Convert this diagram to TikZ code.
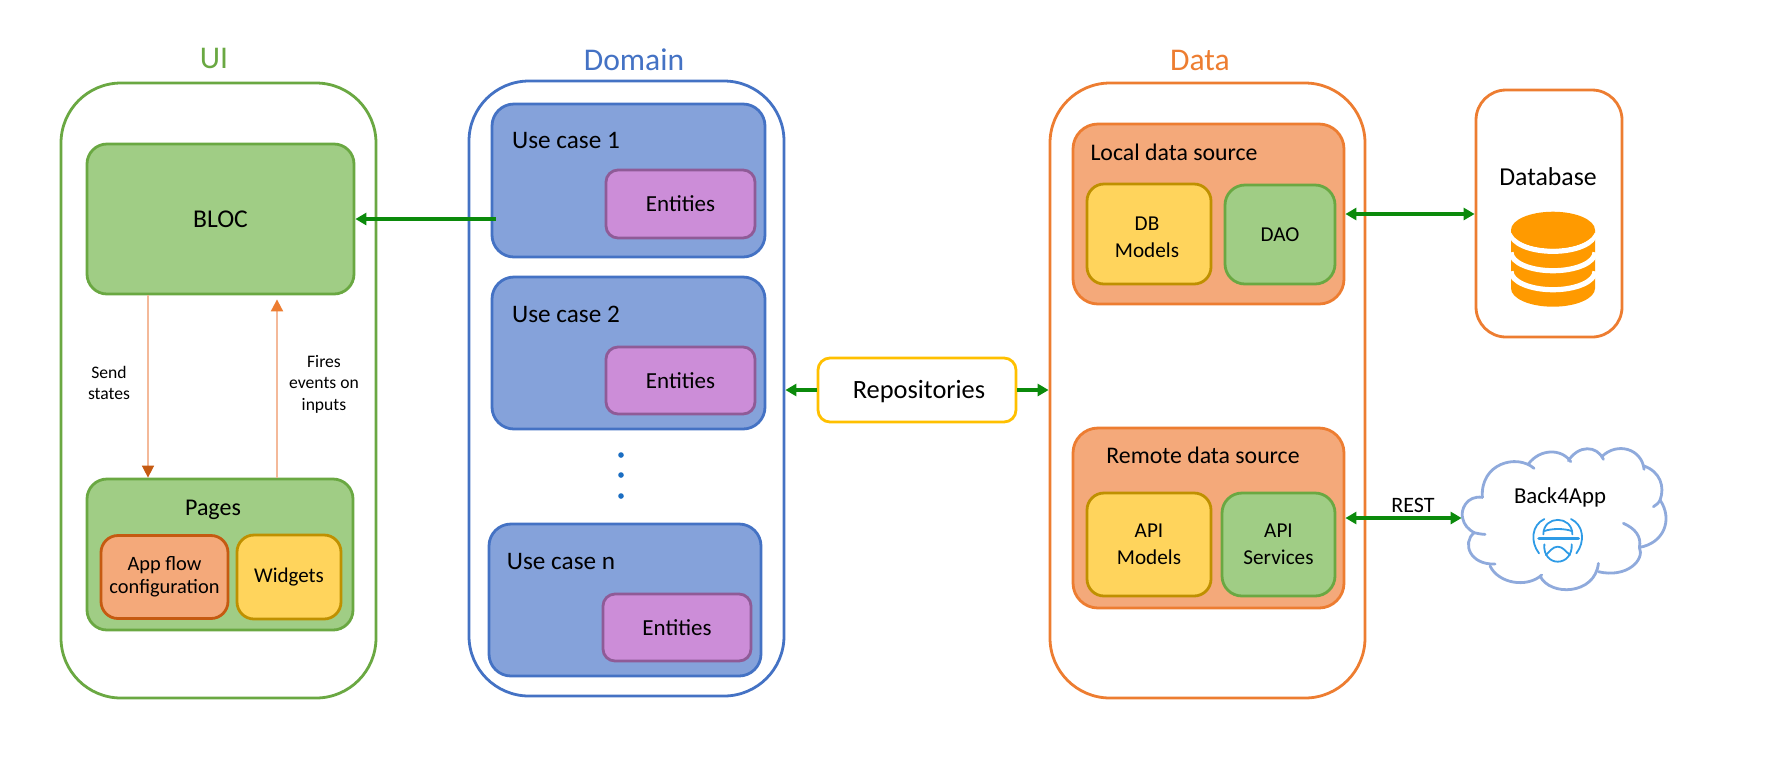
\documentclass[tikz,border=0pt]{standalone}
\usepackage{fontspec}
\setmainfont{Carlito}
\usetikzlibrary{arrows.meta, calc}
\definecolor{uigreen}{HTML}{6AA842}
\definecolor{greenfill}{HTML}{A0CD85}
\definecolor{domainblue}{HTML}{4472C4}
\definecolor{bluefill}{HTML}{85A2DA}
\definecolor{purplefill}{HTML}{CC8DD8}
\definecolor{purpleline}{HTML}{8F5B97}
\definecolor{dataorange}{HTML}{ED7D31}
\definecolor{orangefill}{HTML}{F4A97A}
\definecolor{darkorange}{HTML}{C55A11}
\definecolor{lightorange}{HTML}{F4B999}
\definecolor{yellowfill}{HTML}{FFD45C}
\definecolor{yellowline}{HTML}{BF9000}
\definecolor{repoline}{HTML}{FFC000}
\definecolor{arrowgreen}{HTML}{0B8A0B}
\definecolor{cylorange}{HTML}{FF9A00}
\definecolor{cloudblue}{HTML}{8FAADC}
\definecolor{logoblue}{HTML}{2E9BE6}
\definecolor{dotblue}{HTML}{1B6EC2}
\tikzset{
    cbox/.style n args={4}{draw=#3, fill=#4, line width=1.4pt, rounded corners=8.5pt, inner sep=0pt,
        minimum width=#1*0.5pt, minimum height=#2*0.5pt, align=center},
    layer/.style n args={3}{cbox={#1}{#2}{#3}{white}, rounded corners=30pt},
    greenbox/.style 2 args={cbox={#1}{#2}{uigreen}{greenfill}, rounded corners=10pt},
    yellowbox/.style 2 args={cbox={#1}{#2}{yellowline}{yellowfill}},
    casebox/.style 2 args={cbox={#1}{#2}{domainblue}{bluefill}, rounded corners=11pt},
    entitybox/.style 2 args={cbox={#1}{#2}{purpleline}{purplefill}, rounded corners=6pt},
    sourcebox/.style 2 args={cbox={#1}{#2}{dataorange}{orangefill}, rounded corners=12.5pt},
    lbl/.style 2 args={inner sep=0pt, align=center, font=\fontsize{#1}{#2}\selectfont},
    greenarrow/.style={draw=arrowgreen, line width=1.6pt, -{Triangle[length=5.5pt,width=6pt]}},
    bothgreen/.style={draw=arrowgreen, line width=1.6pt, {Triangle[length=5.5pt,width=6pt]}-{Triangle[length=5.5pt,width=6pt]}},
    cloudline/.style={draw=cloudblue, line width=1.4pt, line cap=round},
    logoline/.style={draw=logoblue, line width=0.9pt, line cap=round}
}
\begin{document}
\begin{tikzpicture}[x=0.5pt, y=-0.5pt]
    \useasboundingbox (0,0) rectangle (1766,768);
    \node[layer={315}{615}{uigreen}] (ui) at (218.5,390.5) {};
    \node[layer={315}{615}{domainblue}] (domain) at (626.5,388.5) {};
    \node[layer={315}{615}{dataorange}] (data) at (1207.5,390.5) {};
    \node[layer={146}{247}{dataorange}, rounded corners=15pt] (database) at (1549,213.5) {};
    \node[lbl={15.8}{19}, text=uigreen] (uititle) at (214,58) {UI};
    \node[lbl={15.8}{19}, text=domainblue] (domaintitle) at (634,60) {Domain};
    \node[lbl={15.8}{19}, text=dataorange] (datatitle) at (1200,60) {Data};

    \node[greenbox={267}{150}, lbl={12.8}{15}] (bloc) at (220.5,219) {BLOC};
    \node[greenbox={266}{151}] (pages) at (220,554.5) {};
    \node[lbl={12}{14}] (pageslabel) at (213,510) {Pages};
    \node[cbox={127}{83}{darkorange}{orangefill}, lbl={10.2}{11.7}] (appflow) at (164.5,577) {App flow\\configuration};
    \node[yellowbox={104}{84}, lbl={10.5}{12}] (widgets) at (289,577) {Widgets};
    \coordinate (sendx) at (148,383);
    \coordinate (firesx) at (277,383);
    \draw[draw=lightorange, line width=0.8pt, -{Triangle[length=6pt,width=6pt,color=darkorange]}] (sendx |- bloc.south) -- (sendx |- pages.north);
    \draw[draw=lightorange, line width=1pt, shorten >=2pt, -{Triangle[length=6pt,width=6pt,color=dataorange]}] (firesx |- pages.north) -- (firesx |- bloc.south);
    \node[lbl={8.8}{10.8}] (sendstates) at (109,383) {Send\\states};
    \node[lbl={8.8}{10.8}] (fires) at (324,384) {Fires\\events on\\inputs};

    \node[casebox={273}{153}] (usecase1) at (628.5,180.5) {};
    \node[lbl={12.6}{15}] (usecase1label) at (566,140) {Use case 1};
    \node[entitybox={149}{68}, lbl={11.5}{14}] (entities1) at (680.5,204) {Entities};
    \node[casebox={273}{152}] (usecase2) at (628.5,353) {};
    \node[lbl={12.6}{15}] (usecase2label) at (566,314) {Use case 2};
    \node[entitybox={149}{67}, lbl={11.5}{14}] (entities2) at (680.5,380.5) {Entities};
    \node[casebox={272}{152}] (usecasen) at (625,600) {};
    \node[lbl={12.6}{15}] (usecasenlabel) at (561,561) {Use case n};
    \node[entitybox={148}{67}, lbl={11.5}{14}] (entitiesn) at (677,627.5) {Entities};
    \foreach \name/\y in {dota/455, dotb/475, dotc/496}
        \node[circle, fill=dotblue, inner sep=0pt, minimum size=2.8pt] (\name) at (621,\y) {};

    \node[cbox={198}{64}{repoline}{white}, rounded corners=6pt] (repos) at (917,390) {};
    \node[lbl={13.2}{16}] (reposlabel) at (919,391.5) {Repositories};

    \node[sourcebox={271}{180}] (localsrc) at (1208.5,214) {};
    \node[lbl={11.9}{14}] (locallabel) at (1174,152) {Local data source};
    \node[yellowbox={124}{100}] (dbmodels) at (1149,234) {};
    \node[lbl={10.6}{13.5}] (dbmodelslabel) at (1147,237) {DB\\Models};
    \node[greenbox={110}{99}, lbl={10.6}{13.5}] (dao) at (1280,234.5) {DAO};
    \node[sourcebox={271}{180}] (remotesrc) at (1208.5,518) {};
    \node[lbl={11.9}{14}] (remotelabel) at (1203,455) {Remote data source};
    \node[yellowbox={124}{103}, lbl={10.6}{13.5}] (apimodels) at (1149,544.5) {API\\Models};
    \node[greenbox={113}{103}, lbl={10.6}{13.5}] (apiservices) at (1278.5,544.5) {API\\Services};

    \node[lbl={12.9}{15}] (databaselabel) at (1548,177) {Database};
    \fill[cylorange] (1511,230) -- (1511,288.4) arc[start angle=180, end angle=0, x radius=42, y radius=18.3] -- (1595,230) -- cycle;
    \foreach \cy in {268.4, 249.4, 230}
        \draw[white, line width=2.6pt] (1511,\cy+3) arc[start angle=180, end angle=0, x radius=42, y radius=18.3];
    \fill[cylorange] (1553,230) ellipse[x radius=42, y radius=18.3];

    \node[inner sep=0pt, minimum width=102.5pt, minimum height=72.5pt] (cloud) at (1564.5,519.5) {};
    \node[lbl={11.4}{14}] (back4app) at (1560,497) {Back4App};
    \begin{scope}[shift={(1320,440)}, x=0.1667pt, y=-0.1667pt]
        \draw[cloudline] (487,172) .. controls (440,165) and (420,210) .. (428,235) .. controls (432,255) and (445,268) .. (462,278);
        \draw[cloudline] (462,278) .. controls (472,280) and (485,283) .. (495,283);
        \draw[cloudline] (462,278) .. controls (425,310) and (450,375) .. (525,372);
        \draw[cloudline] (510,378) .. controls (535,430) and (620,445) .. (665,405);
        \draw[cloudline] (660,408) .. controls (690,470) and (825,465) .. (835,370);
        \draw[cloudline] (835,395) .. controls (920,415) and (975,360) .. (958,322);
        \draw[cloudline] (958,322) .. controls (965,290) and (945,265) .. (910,250);
        \draw[cloudline] (958,322) .. controls (1030,310) and (1060,240) .. (1020,180);
        \draw[cloudline] (1020,180) .. controls (1015,190) and (1008,195) .. (1000,200);
        \draw[cloudline] (1020,180) .. controls (1035,140) and (1020,95) .. (972,78);
        \draw[cloudline] (972,88) .. controls (965,25) and (890,5) .. (845,50);
        \draw[cloudline] (850,58) .. controls (830,15) and (775,15) .. (745,62);
        \draw[cloudline] (752,65) .. controls (725,25) and (660,25) .. (625,72);
        \draw[cloudline] (642,85) .. controls (590,40) and (480,70) .. (487,172);
    \end{scope}
    \begin{scope}[shift={(1515,505)}, x=0.1667pt, y=-0.1667pt]
        \draw[logoline] (88,42) .. controls (50,60) and (45,110) .. (72,145);
        \draw[logoline] (168,42) .. controls (206,60) and (211,110) .. (184,145);
        \draw[logoline] (85,88) .. controls (85,30) and (172,30) .. (172,88);
        \draw[logoline] (88,78) .. controls (110,70) and (148,70) .. (170,78);
        \draw[logoline, line width=1.8pt] (72,100) -- (190,100);
        \draw[logoline] (88,118) .. controls (85,150) and (105,170) .. (128,170) .. controls (152,170) and (172,150) .. (170,118);
        \draw[logoline] (92,150) .. controls (105,140) and (112,125) .. (128,125) .. controls (144,125) and (152,140) .. (165,150);
    \end{scope}

    \draw[greenarrow] ($(usecase1.west |- bloc.east)+(5,0)$) -- (bloc.east);
    \draw[greenarrow] (repos.west) -- (repos.west -| domain.east);
    \draw[greenarrow] (repos.east) -- (repos.east -| data.west);
    \draw[bothgreen] (localsrc.east) -- (localsrc.east -| database.west);
    \draw[bothgreen] (remotesrc.east) -- (remotesrc.east -| cloud.west);
    \node[lbl={11}{13}] (rest) at (1413,505) {REST};
\end{tikzpicture}
\end{document}
